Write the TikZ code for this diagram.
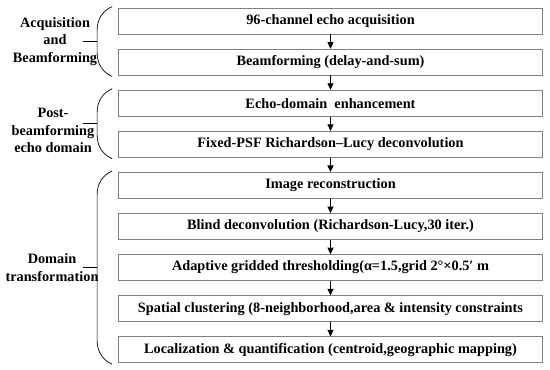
\documentclass[tikz,border=0pt]{standalone}
\usepackage{fontspec}
\setmainfont{Liberation Serif}
\usetikzlibrary{positioning,arrows.meta,calc}

\tikzset{
  stage/.style={rectangle, draw=black!50, line width=0.8pt, minimum width=424pt, minimum height=26pt, inner sep=2pt},
  flow/.style={line width=0.9pt, -{Triangle[length=6.5pt,width=6pt]}},
  grouplabel/.style={align=center, inner sep=0pt},
  bracket/.style={line width=0.7pt}
}

\begin{document}
\begin{tikzpicture}[font=\fontsize{14.3}{17.5}\selectfont\bfseries, node distance=14.3pt]
\useasboundingbox (0,0) rectangle (550pt,370pt);

% processing chain
\node[stage] (s1) at (330.5pt,349pt) {96-channel echo acquisition};
\node[stage, below=of s1] (s2) {Beamforming (delay-and-sum)};
\node[stage, below=of s2] (s3) {Echo-domain\ \ enhancement};
\node[stage, below=of s3] (s4) {Fixed-PSF Richardson–Lucy deconvolution};
\node[stage, below=of s4] (s5) {Image reconstruction};
\node[stage, below=of s5] (s6) {Blind deconvolution (Richardson-Lucy,30 iter.)};
\node[stage, below=of s6] (s7) {Adaptive gridded thresholding(α=1.5,grid 2°×0.5′ m};
\node[stage, below=of s7] (s8) {Spatial clustering (8-neighborhood,area \& intensity constraints};
\node[stage, below=of s8] (s9) {Localization \& quantification (centroid,geographic mapping)};

\foreach \a/\b in {s1/s2,s2/s3,s3/s4,s4/s5,s5/s6,s6/s7,s7/s8,s8/s9}
  \draw[flow] (\a) -- (\b);

% group brackets
\foreach \t/\b/\g in {s1/s2/g1,s3/s4/g2,s5/s9/g3}{
  \coordinate (\g t) at ([xshift=-6pt,yshift=1pt]\t.north west);
  \coordinate (\g b) at ([xshift=-6pt,yshift=-1pt]\b.south west);
  \coordinate (\g m) at ($(\g t)!0.5!(\g b)+(-15pt,0)$);
  \draw[bracket] (\g t) .. controls +(-9pt,-4pt) and +(0,12pt) .. ([xshift=-15pt,yshift=-24pt]\g t)
    -- ([xshift=-15pt,yshift=24pt]\g b) .. controls +(0,-12pt) and +(-9pt,4pt) .. (\g b);
  \draw[bracket] (\g m) -- ++(-14pt,0);
}

\node[grouplabel] (l1) at (55pt,0 |- g1m) {Acquisition\\and\\Beamforming};
\node[grouplabel, yshift=-7pt] (l2) at (53pt,0 |- g2m) {Post-\\beamforming\\echo domain};
\node[grouplabel] (l3) at (52pt,0 |- g3m) {Domain\\transformation};
\end{tikzpicture}
\end{document}
